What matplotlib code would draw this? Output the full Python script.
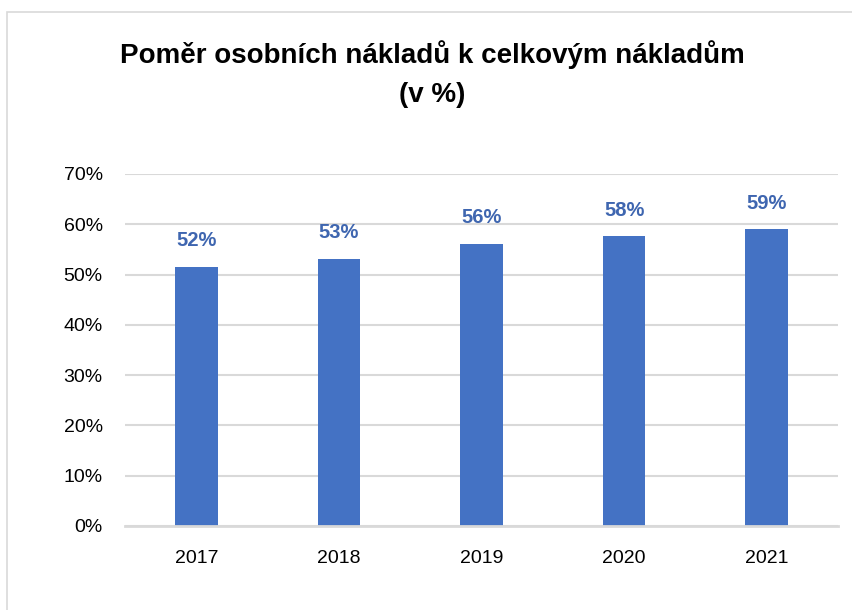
import matplotlib
matplotlib.use("Agg")
import matplotlib.pyplot as plt
from matplotlib.patches import Rectangle

years = ["2017", "2018", "2019", "2020", "2021"]
values = [51.5, 53.1, 56.1, 57.6, 59.0]
labels = ["52%", "53%", "56%", "58%", "59%"]
yticks = [0, 10, 20, 30, 40, 50, 60, 70]

plt.rcParams['font.family'] = ['Liberation Sans', 'DejaVu Sans']

W, H = 853, 610
fig = plt.figure(figsize=(W/100, H/100), dpi=100)
fig.patch.set_facecolor('white')

# outer frame
fig.patches.append(Rectangle((7/W, -0.1), 1.2, 1 - 12/H + 0.1, transform=fig.transFigure,
                             fill=False, edgecolor='#D9D9D9', linewidth=1.2))

left, right = 125/W, 838/W
bottom, top = 1 - 526/H, 1 - 174/H
ax = fig.add_axes([left, bottom, right - left, top - bottom])

x = range(len(years))
bars = ax.bar(x, values, width=0.3, color='#4472C4', zorder=3)
ax.set_xlim(-0.5, len(years) - 0.5)
ax.set_ylim(0, 70)
ax.set_yticks(yticks)
ax.set_yticklabels([f"{v}%" for v in yticks], fontsize=14, color='#000000')
ax.set_xticks(list(x))
ax.set_xticklabels(years, fontsize=14)
ax.tick_params(axis='both', length=0)
ax.tick_params(axis='y', pad=16)
ax.tick_params(axis='x', pad=17)
ax.grid(axis='y', color='#D9D9D9', linewidth=1.5, zorder=0)
for s in ['top', 'right', 'left']:
    ax.spines[s].set_visible(False)
ax.spines['bottom'].set_color('#D9D9D9')
ax.spines['bottom'].set_linewidth(2)
ax.spines['bottom'].set_zorder(4)

for xi, v, lab in zip(x, values, labels):
    ax.annotate(lab, (xi, v), xytext=(0, 12), textcoords='offset points',
                ha='center', va='bottom', fontsize=14.5, fontweight='bold', color='#3F66B0')

fig.text(432/W, 1 - 55/H, "Poměr osobních nákladů k celkovým nákladům", ha='center', va='center',
         fontsize=20, fontweight='bold')
fig.text(432/W, 1 - 95/H, "(v %)", ha='center', va='center', fontsize=20, fontweight='bold')

fig.savefig("out.png", dpi=100)
